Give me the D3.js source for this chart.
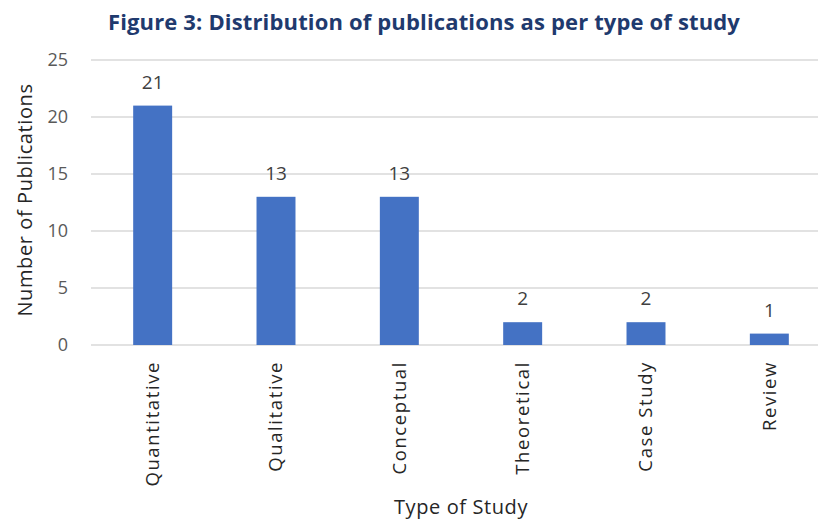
<!DOCTYPE html>
<html>
<head>
<meta charset="utf-8">
<script src="https://cdn.jsdelivr.net/npm/d3@7.9.0/dist/d3.min.js"></script>
<style>
  body { margin: 0; background: #fff; }
  svg { display: block; font-family: 'Open Sans', 'Noto Sans', sans-serif; }
</style>
</head>
<body>
<svg id="chart" width="818" height="520"></svg>
<script>
const categories = ['Quantitative', 'Qualitative', 'Conceptual', 'Theoretical', 'Case Study', 'Review'];
const counts = [21, 13, 13, 2, 2, 1];
const yTicks = [0, 5, 10, 15, 20, 25];

const svg = d3.select('#chart');
const margin = { left: 91, right: 831, top: 60, bottom: 345 };

const x = d3.scaleBand()
    .domain(categories)
    .range([margin.left, margin.right])
    .paddingInner(0.684)
    .paddingOuter(0.342);

const y = d3.scaleLinear().domain([0, 25]).range([margin.bottom, margin.top]);

// gridlines
svg.append('g')
    .selectAll('line')
    .data(yTicks)
    .join('line')
    .attr('x1', margin.left)
    .attr('x2', margin.right)
    .attr('y1', (d) => y(d))
    .attr('y2', (d) => y(d))
    .attr('stroke', '#d9d9d9')
    .attr('stroke-width', 1.3);

// y tick labels
svg.append('g')
    .selectAll('text')
    .data(yTicks)
    .join('text')
    .attr('x', 68)
    .attr('y', (d) => y(d))
    .attr('dy', '0.35em')
    .attr('text-anchor', 'end')
    .attr('font-size', 18)
    .attr('fill', '#595959')
    .text((d) => d);

// bars
svg.append('g')
    .selectAll('rect')
    .data(counts)
    .join('rect')
    .attr('x', (d, i) => x(categories[i]))
    .attr('y', (d) => y(d))
    .attr('width', x.bandwidth())
    .attr('height', (d) => y(0) - y(d))
    .attr('fill', '#4472c4');

// value labels
svg.append('g')
    .selectAll('text')
    .data(counts)
    .join('text')
    .attr('x', (d, i) => x(categories[i]) + x.bandwidth() / 2)
    .attr('y', (d) => y(d) - 17)
    .attr('text-anchor', 'middle')
    .attr('font-size', 19)
    .attr('fill', '#404040')
    .text((d) => d);

// category labels
svg.append('g')
    .selectAll('text')
    .data(categories)
    .join('text')
    .attr('transform', (d) => `translate(${x(d) + x.bandwidth() / 2},361) rotate(-90)`)
    .attr('dy', '0.35em')
    .attr('text-anchor', 'end')
    .attr('font-size', 18.5)
    .attr('letter-spacing', 1.6)
    .attr('fill', '#262626')
    .text((d) => d);

// axis titles
svg.append('text')
    .attr('transform', 'translate(32,200) rotate(-90)')
    .attr('text-anchor', 'middle')
    .attr('font-size', 20)
    .attr('letter-spacing', 0.6)
    .attr('fill', '#262626')
    .text('Number of Publications');

svg.append('text')
    .attr('x', 461)
    .attr('y', 514)
    .attr('text-anchor', 'middle')
    .attr('font-size', 20)
    .attr('letter-spacing', 0.6)
    .attr('fill', '#262626')
    .text('Type of Study');

// title
svg.append('text')
    .attr('x', 424)
    .attr('y', 30)
    .attr('text-anchor', 'middle')
    .attr('font-size', 22)
    .attr('letter-spacing', 0.15)
    .attr('font-weight', 'bold')
    .attr('fill', '#1f3a6e')
    .text('Figure 3: Distribution of publications as per type of study');
</script>
</body>
</html>
